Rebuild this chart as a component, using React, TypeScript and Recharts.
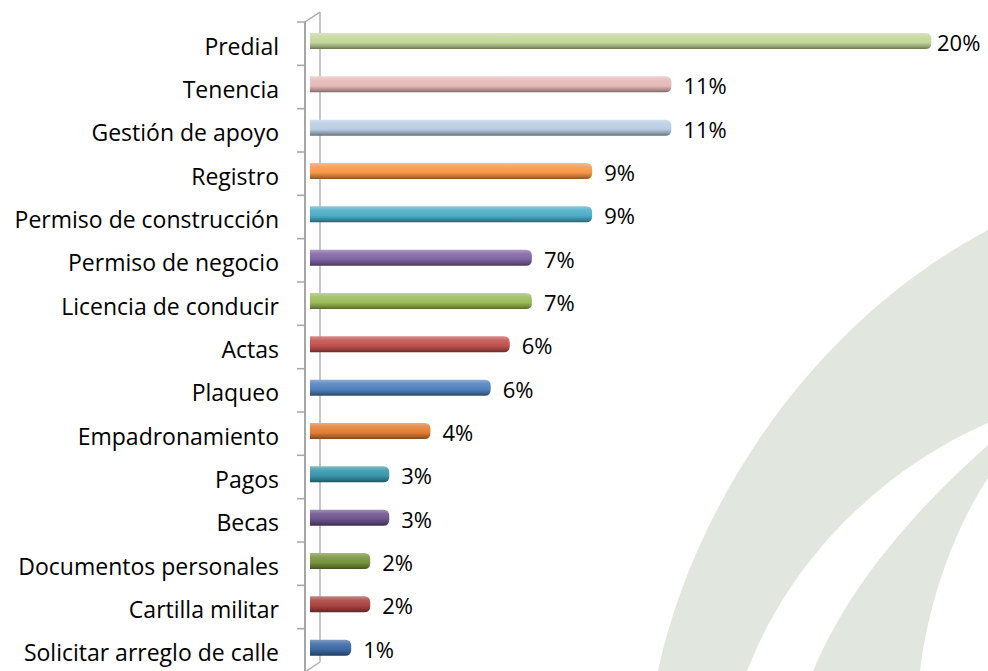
import { Bar, BarChart, LabelList, XAxis, YAxis } from "recharts";

const categories = [
  "Predial",
  "Tenencia",
  "Gestión de apoyo",
  "Registro",
  "Permiso de construcción",
  "Permiso de negocio",
  "Licencia de conducir",
  "Actas",
  "Plaqueo",
  "Empadronamiento",
  "Pagos",
  "Becas",
  "Documentos personales",
  "Cartilla militar",
  "Solicitar arreglo de calle",
];

// share of requests, %
const percentages = [19.6, 11.4, 11.4, 8.9, 8.9, 7.0, 7.0, 6.3, 5.7, 3.8, 2.5, 2.5, 1.9, 1.9, 1.3];

const barColors = [
  "#c3d69b",
  "#e6b9b8",
  "#b9cde5",
  "#f79646",
  "#4bacc6",
  "#8064a2",
  "#9bbb59",
  "#c0504d",
  "#4f81bd",
  "#e37d32",
  "#3795ab",
  "#6c528c",
  "#77933c",
  "#a8423f",
  "#3c6aa3",
];

const CHART_W = 988;
const CHART_H = 700;
const VIEW_H = 671;
const PLOT_TOP = 22;
const PLOT_BOTTOM_MARGIN = 28;
const PLOT_LEFT = 310;
const PLOT_H = CHART_H - PLOT_TOP - PLOT_BOTTOM_MARGIN;
const STEP = PLOT_H / categories.length;
const FONT = "'Open Sans', 'Noto Sans', sans-serif";
const BAR_LIFT = 3;

const data = categories.map((name, i) => ({ name, value: percentages[i] }));

function mix(hex: string, target: number, amount: number) {
  const n = parseInt(hex.slice(1), 16);
  const ch = [(n >> 16) & 255, (n >> 8) & 255, n & 255].map((c) =>
    Math.round(c + (target - c) * amount)
  );
  return `rgb(${ch[0]},${ch[1]},${ch[2]})`;
}

function CylinderBar(props: any) {
  const { x, y, width, height, index } = props;
  if (width <= 0) return null;
  const top = y - BAR_LIFT;
  const r = Math.min(6, height / 2);
  const right = x + width;
  const d = `M${x},${top} H${right - r} Q${right},${top} ${right},${top + r} V${top + height - r} Q${right},${top + height} ${right - r},${top + height} H${x} Z`;
  return <path d={d} fill={`url(#bar-grad-${index})`} />;
}

function CategoryTick(props: any) {
  const { y, payload, index } = props;
  const axisX = PLOT_LEFT - 5;
  return (
    <g>
      <line x1={axisX - 8} x2={axisX} y1={y - STEP / 2} y2={y - STEP / 2} stroke="#a6a6a6" strokeWidth={1.5} />
      {index === categories.length - 1 && (
        <line x1={axisX - 8} x2={axisX} y1={y + STEP / 2} y2={y + STEP / 2} stroke="#a6a6a6" strokeWidth={1.5} />
      )}
      <text
        x={PLOT_LEFT - 31}
        y={y + 2}
        textAnchor="end"
        dominantBaseline="central"
        fontFamily={FONT}
        fontSize={23}
        fill="#000"
      >
        {payload.value}
      </text>
    </g>
  );
}

function ValueLabel(props: any) {
  const { x, y, width, height, value } = props;
  const tx = Math.min(x + width + 12, CHART_W - 51);
  return (
    <text
      x={tx}
      y={y + height / 2 - BAR_LIFT + 1}
      dominantBaseline="central"
      fontFamily={FONT}
      fontSize={22}
      fill="#000"
    >
      {`${Math.round(value)}%`}
    </text>
  );
}

function Backdrop() {
  const axisX = PLOT_LEFT - 5;
  const wallX = PLOT_LEFT + 10;
  const bottom = PLOT_TOP + PLOT_H;
  return (
    <svg width={CHART_W} height={VIEW_H} style={{ position: "absolute", left: 0, top: 0 }}>
      <path d="M658,671 C690,520 800,330 988,230 L988,423 C880,470 790,560 747,671 Z" fill="#e1e6de" />
      <path d="M813,671 C850,585 910,515 988,445 L988,478 C960,520 930,590 920,671 Z" fill="#e1e6de" />
      <line x1={wallX} x2={wallX} y1={PLOT_TOP - 10} y2={bottom - 10} stroke="#b3b3b3" strokeWidth={1.5} />
      <line x1={axisX} x2={wallX} y1={PLOT_TOP} y2={PLOT_TOP - 10} stroke="#a6a6a6" strokeWidth={1.5} />
      <line x1={axisX} x2={wallX} y1={bottom} y2={bottom - 10} stroke="#b3b3b3" strokeWidth={1.5} />
      <line x1={axisX} x2={axisX} y1={PLOT_TOP} y2={bottom} stroke="#a6a6a6" strokeWidth={2} />
    </svg>
  );
}

export default function App() {
  return (
    <div
      style={{
        position: "relative",
        width: CHART_W,
        height: VIEW_H,
        overflow: "hidden",
        background: "#fff",
      }}
    >
      <style>{"body{margin:0}"}</style>
      <Backdrop />
      <div style={{ position: "absolute", left: 0, top: 0 }}>
        <BarChart
          width={CHART_W}
          height={CHART_H}
          data={data}
          layout="vertical"
          margin={{ top: PLOT_TOP, right: 44, bottom: PLOT_BOTTOM_MARGIN, left: 0 }}
        >
          <defs>
            {barColors.map((c, i) => (
              <linearGradient key={i} id={`bar-grad-${i}`} x1="0" y1="0" x2="0" y2="1">
                <stop offset="0%" stopColor={mix(c, 255, 0.35)} />
                <stop offset="25%" stopColor={mix(c, 255, 0.12)} />
                <stop offset="60%" stopColor={c} />
                <stop offset="85%" stopColor={mix(c, 0, 0.25)} />
                <stop offset="100%" stopColor={mix(c, 0, 0.45)} />
              </linearGradient>
            ))}
          </defs>
          <XAxis type="number" domain={[0, 20]} hide />
          <YAxis
            type="category"
            dataKey="name"
            width={PLOT_LEFT}
            axisLine={false}
            tickLine={false}
            interval={0}
            tick={<CategoryTick />}
          />
          <Bar dataKey="value" barSize={16} shape={<CylinderBar />} isAnimationActive={false}>
            <LabelList dataKey="value" content={<ValueLabel />} />
          </Bar>
        </BarChart>
      </div>
    </div>
  );
}
